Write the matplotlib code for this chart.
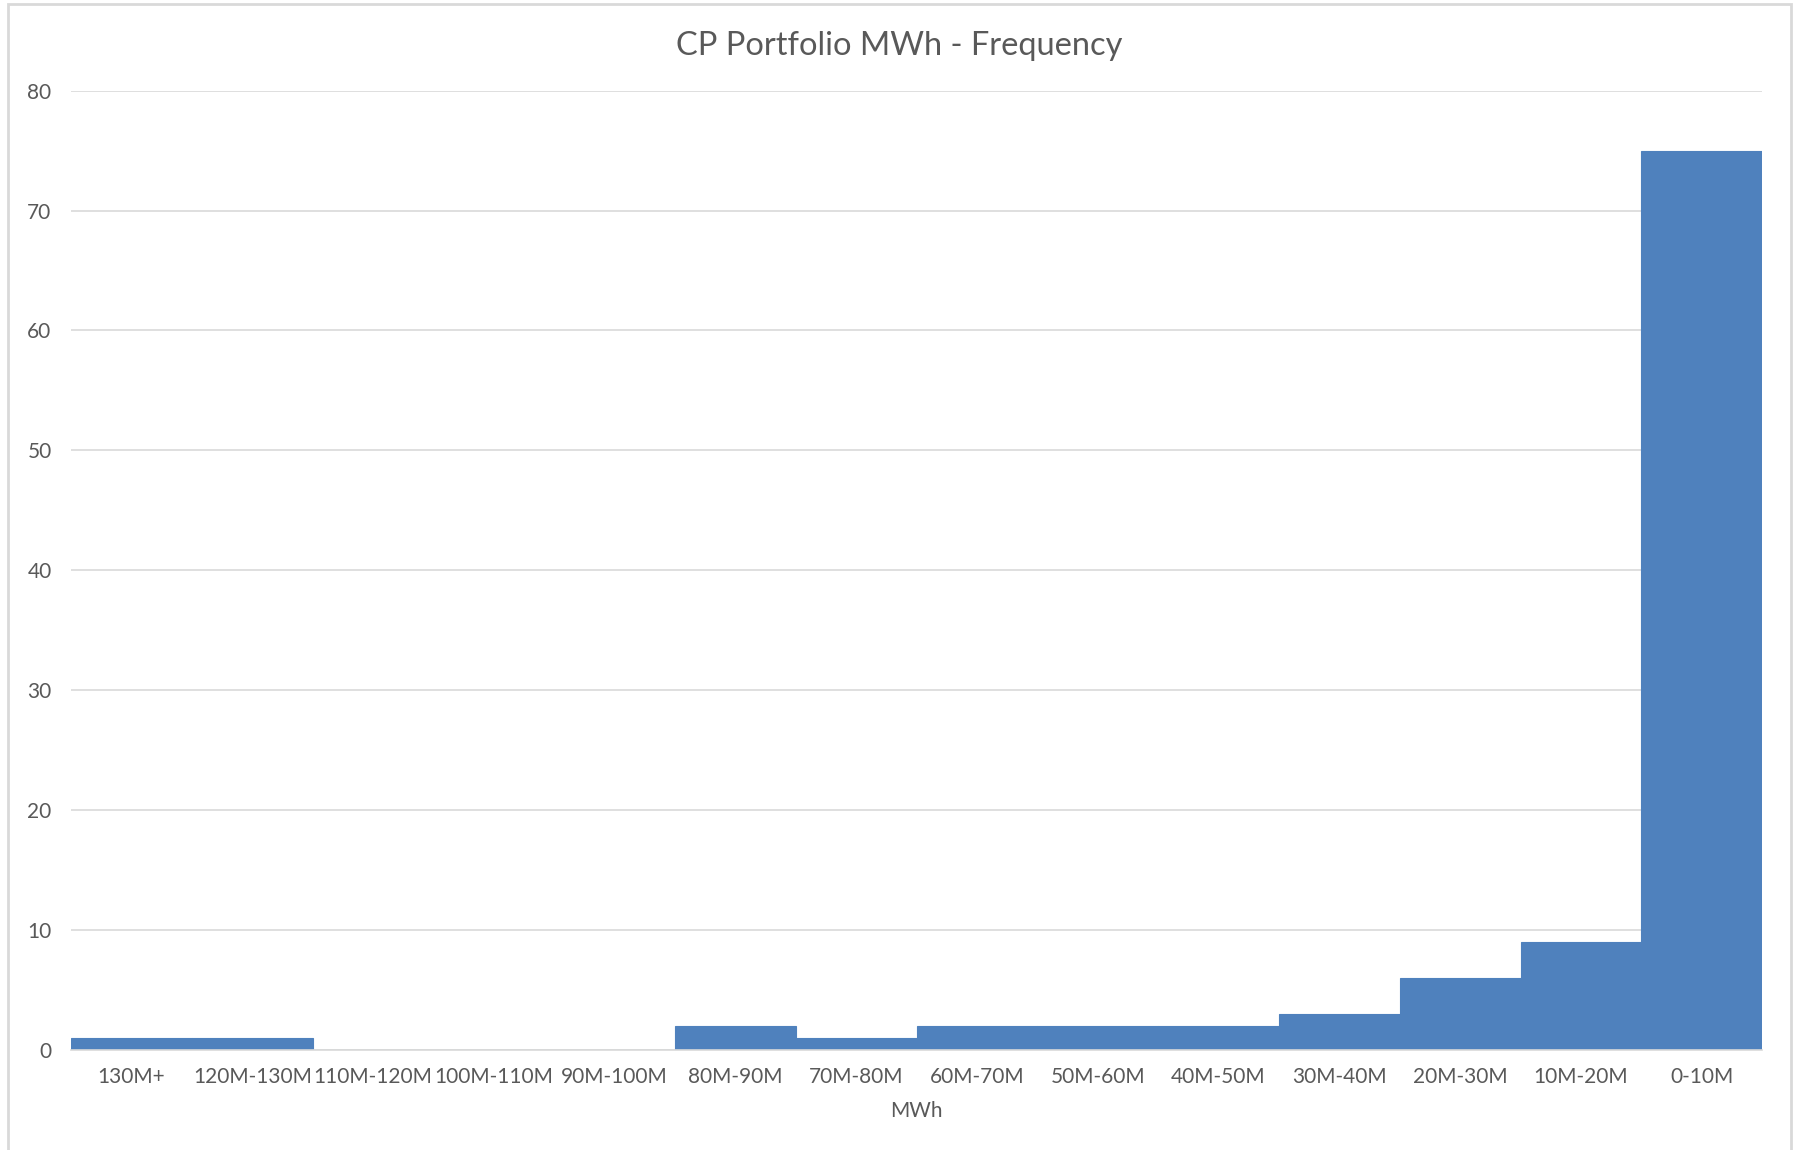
import matplotlib
matplotlib.use("Agg")
import matplotlib.pyplot as plt
from matplotlib.patches import Rectangle

categories = ["130M+", "120M-130M", "110M-120M", "100M-110M", "90M-100M",
              "80M-90M", "70M-80M", "60M-70M", "50M-60M", "40M-50M",
              "30M-40M", "20M-30M", "10M-20M", "0-10M"]
counts = [1, 1, 0, 0, 0, 2, 1, 2, 2, 2, 3, 6, 9, 75]
yticks = [0, 10, 20, 30, 40, 50, 60, 70, 80]

plt.rcParams["font.family"] = ["Lato", "DejaVu Sans"]
text_color = "#595959"
grid_color = "#D9D9D9"
bar_color = "#4F81BD"

fig = plt.figure(figsize=(17.99, 11.5), dpi=100)
ax = fig.add_axes([0.0395, 0.0870, 0.9400, 0.8342])

x = list(range(len(categories)))
ax.bar(x, counts, width=1.0, color=bar_color, edgecolor=bar_color,
       linewidth=0.8, zorder=3)

ax.set_xlim(-0.5, len(categories) - 0.5)
ax.set_ylim(0, 80)
ax.set_yticks(yticks)
ax.set_xticks(x)
ax.set_xticklabels(categories)
ax.grid(axis="y", color=grid_color, linewidth=1.2, zorder=0)
ax.set_axisbelow(True)

for side in ("top", "right", "left"):
    ax.spines[side].set_visible(False)
ax.spines["bottom"].set_color(grid_color)
ax.spines["bottom"].set_linewidth(1.2)
ax.spines["bottom"].set_zorder(4)

ax.tick_params(axis="both", length=0, colors=text_color, labelsize=15)
ax.tick_params(axis="y", pad=14)
ax.tick_params(axis="x", pad=12)

ax.set_xlabel("MWh", color=text_color, fontsize=15, labelpad=10)
fig.text(0.4998, 0.960, "CP Portfolio MWh - Frequency", ha="center",
         va="center", fontsize=23.5, color=text_color)

# chart area frame
fig.patches.append(Rectangle((8 / 1799, -0.01), (1791 - 8) / 1799, 1.01 - 4 / 1150,
                             transform=fig.transFigure, fill=False,
                             edgecolor=grid_color, linewidth=2.0))

fig.savefig("out.png", dpi=100)
